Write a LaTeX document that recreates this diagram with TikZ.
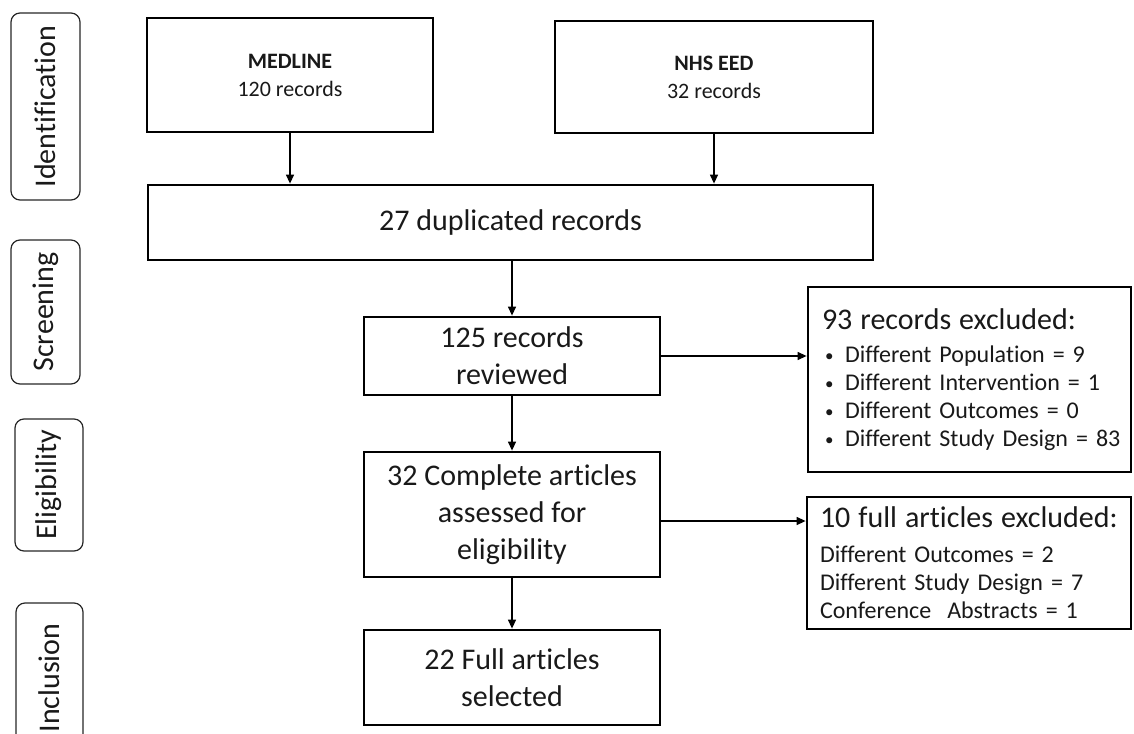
\documentclass[tikz,border=0pt]{standalone}
\usepackage{fontspec}
\setmainfont{Carlito}[Ligatures=NoCommon]
\usetikzlibrary{arrows.meta}
\newcommand{\bul}{\hspace*{3pt}\makebox[20pt][l]{\raisebox{1pt}{\fontsize{17}{17}\selectfont •}}}
\begin{document}
\begin{tikzpicture}[x=1pt,y=-1pt,
  box/.style={draw=black, line width=2.8pt, inner sep=0pt, align=center, text=black!90},
  side/.style={draw=black!85, line width=1.2pt, rounded corners=9pt, rotate=90, inner sep=0pt, text=black!90, font=\fontsize{30}{36}\selectfont},
  arr/.style={-{Triangle[length=9pt,width=8pt]}, line width=1.3pt},
  big/.style={font=\fontsize{30}{37}\selectfont},
  small/.style={font=\fontsize{24}{28}\selectfont}]
\useasboundingbox (0,0) rectangle (1134,733);
% side labels
\node[side, minimum width=187pt, minimum height=69pt] (sid) at (45.5,106.5) {Identification};
\node[side, minimum width=144pt, minimum height=69pt] (sscr) at (45.5,312) {Screening};
\node[side, minimum width=132pt, minimum height=68pt] (selig) at (49,485) {Eligibility};
\node[side, minimum width=150pt, minimum height=67pt] (sinc) at (49.5,678) {Inclusion};
% main boxes
\node[box, minimum width=286pt, minimum height=114pt, font=\fontsize{22}{28}\selectfont] (medline) at (290,75) {\textbf{MEDLINE}\\120 records};
\node[box, minimum width=318pt, minimum height=112pt, font=\fontsize{22}{28}\selectfont] (nhs) at (714,77) {\textbf{NHS EED}\\32 records};
\node[box, minimum width=725pt, minimum height=75pt, font=\fontsize{30}{36}\selectfont] (dup) at (510.5,222.5) {27 duplicated records};
\node[box, big, minimum width=296pt, minimum height=78pt] (rev) at (512,356) {125 records\\reviewed};
\node[box, big, minimum width=296pt, minimum height=125pt] (assess) at (512,514.5) {32 Complete articles\\assessed for\\eligibility};
\node[box, big, minimum width=296pt, minimum height=95pt] (sel) at (512,677.5) {22 Full articles\\selected};
\node[box, small, align=left, text width=295pt, minimum width=323pt, minimum height=185pt] (exa) at (969.5,379.5)
  {\mbox{\fontsize{30}{34}\selectfont 93 records excluded:}\\[5pt]
   \mbox{\bul Different Population = 9}\\
   \mbox{\bul Different Intervention = 1}\\
   \mbox{\bul Different Outcomes = 0}\\
   \mbox{\bul Different Study Design = 83}};
\node[box, small, align=left, text width=298pt, minimum width=324pt, minimum height=132pt] (exb) at (969,563)
  {\mbox{\fontsize{30}{34}\selectfont 10 full articles excluded:}\\[7pt]
   \mbox{Different Outcomes = 2}\\
   \mbox{Different Study Design = 7}\\
   \mbox{Conference\ \ Abstracts = 1}};
% connectors
\draw[arr] (medline.south) -- (medline.south |- dup.north);
\draw[arr] (nhs.south) -- (nhs.south |- dup.north);
\draw[arr] (rev.north |- dup.south) -- (rev.north);
\draw[arr] (rev.south) -- (assess.north);
\draw[arr] (assess.south) -- (sel.north);
\draw[arr] (rev.east) -- (exa.west |- rev.east);
\coordinate (aout) at ([yshift=-6.5pt]assess.east);
\draw[arr] (aout) -- (exb.west |- aout);
\end{tikzpicture}
\end{document}
